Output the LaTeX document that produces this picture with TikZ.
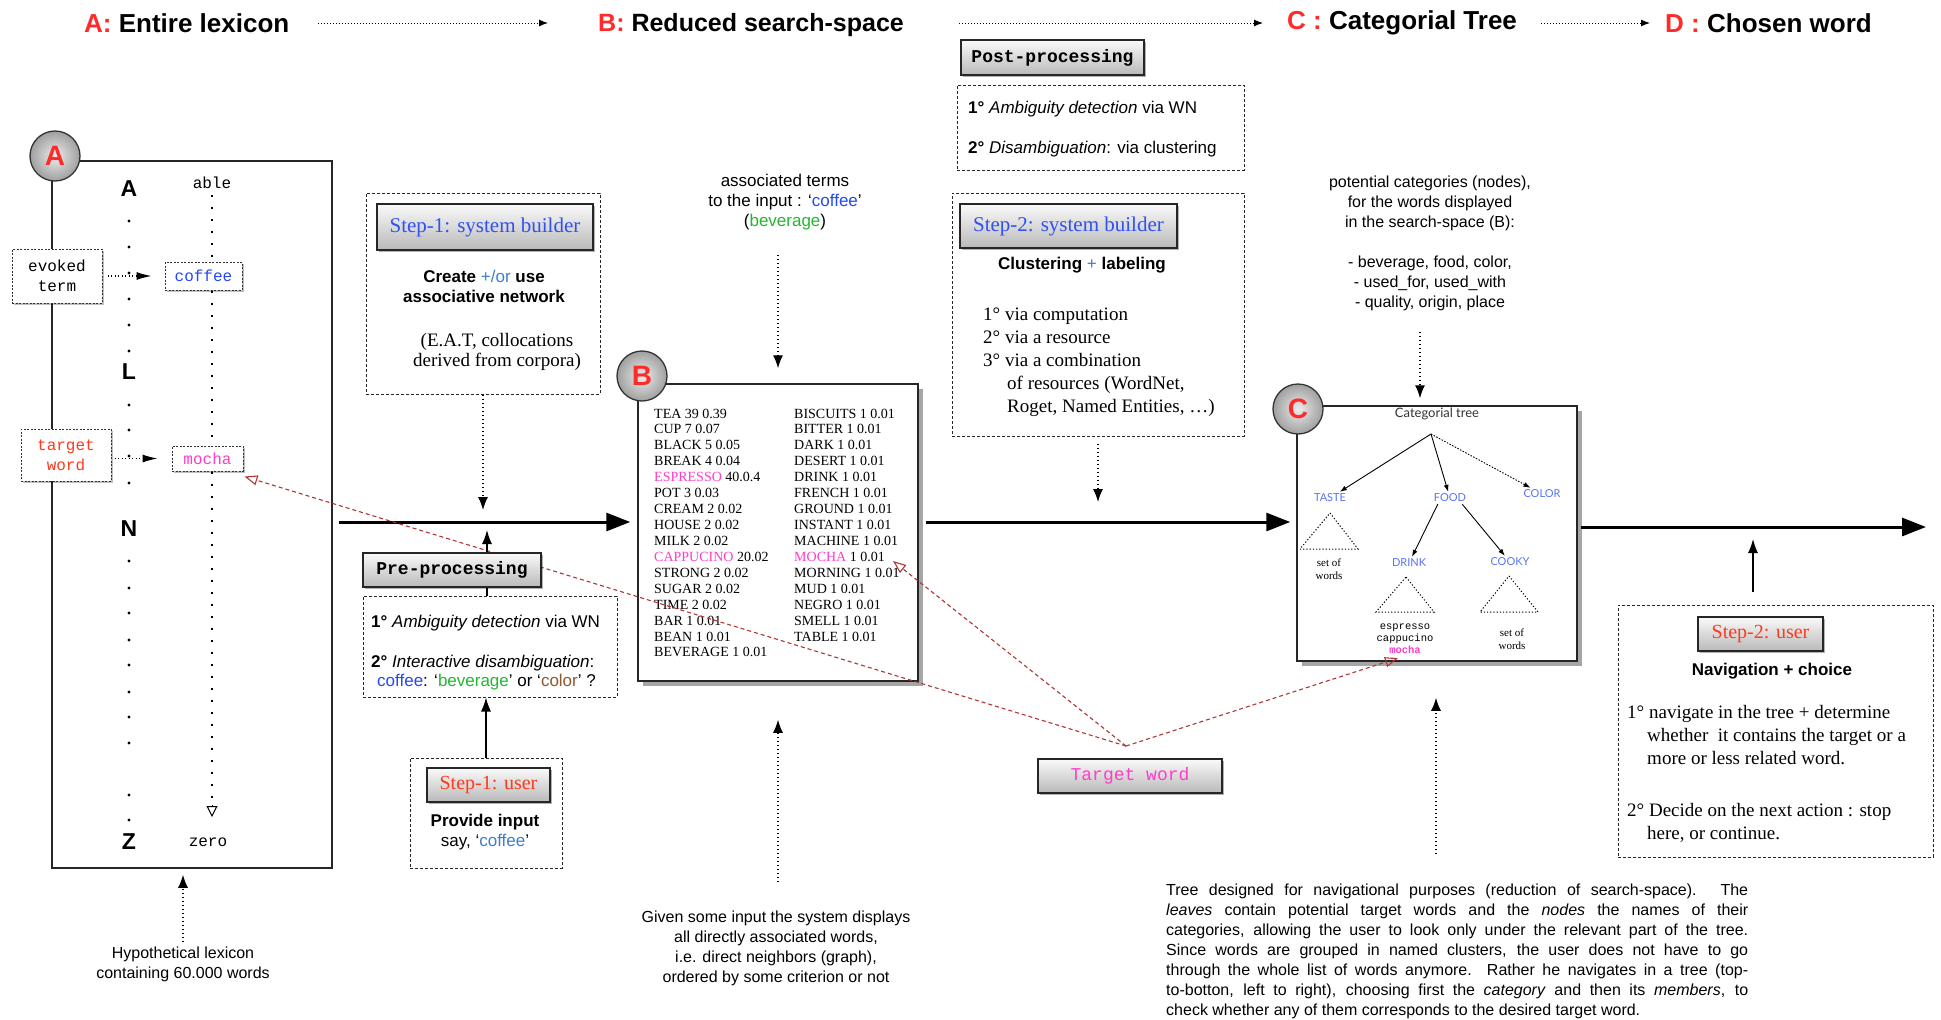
\documentclass[tikz,border=0pt]{standalone}
\usepackage{fontspec}
\setmainfont{Liberation Serif}
\setsansfont{Liberation Sans}
\setmonofont{Liberation Mono}
\newfontfamily\latofont{Lato}
\usetikzlibrary{arrows.meta,shadows,calc}
\definecolor{hred}{HTML}{FF2A2A}
\definecolor{cblue}{HTML}{2448F5}
\definecolor{sblue}{HTML}{3A80D0}
\definecolor{cgreen}{HTML}{22B830}
\definecolor{cbrown}{HTML}{8B5A2B}
\definecolor{cpink}{HTML}{FF3DC8}
\definecolor{tred}{HTML}{B03535}
\definecolor{tblue}{HTML}{5A74F0}
\definecolor{wred}{HTML}{FF3A1A}
\definecolor{hblue}{HTML}{3050F0}
\newcommand\fsz[2]{\fontsize{#1}{#2}\selectfont}
\begin{document}
\begin{tikzpicture}[x=1pt,y=-1pt,
  hdr/.style={font=\sffamily\bfseries\fsz{26}{26}, inner sep=0pt},
  hdrarr/.style={dash pattern=on 1pt off 2pt, line width=1pt, -{Latex[length=9pt,width=7pt]}},
  panel/.style={draw=black!85, line width=1.5pt, fill=white, inner sep=0pt},
  shadowB/.style={drop shadow={shadow xshift=5pt, shadow yshift=-5pt, fill=black, opacity=0.35}},
  dbox/.style={draw=black!85, dash pattern=on 3pt off 2pt, line width=1pt, fill=white, inner sep=0pt},
  gbox/.style={draw=black!85, line width=1.2pt, top color=gray!4, bottom color=gray!55, inner sep=0pt,
     drop shadow={shadow xshift=2pt, shadow yshift=-2pt, fill=black, opacity=0.3}},
  circ/.style={circle, draw=black!80, line width=1.3pt, minimum size=50pt, inner sep=0pt,
     shading=radial, inner color=gray!15, outer color=gray!75,
     font=\sffamily\bfseries\fsz{28}{28}, text=hred},
  mainarr/.style={line width=3pt, -{Triangle[length=24pt,width=18pt]}},
  dotarr/.style={dash pattern=on 1.2pt off 2.8pt, line width=1.3pt, -{Latex[length=13pt,width=10pt]}},
  smalldot/.style={dash pattern=on 1pt off 2.5pt, line width=1.2pt, -{Latex[length=15pt,width=8pt]}},
  solidarr/.style={line width=1.3pt, -{Latex[length=14pt,width=10pt]}},
  treearr/.style={line width=0.9pt, -{Latex[length=7pt,width=5pt]}},
  redarr/.style={draw=tred, dash pattern=on 4pt off 3pt, line width=1.1pt, -{Triangle[open,length=13pt,width=10pt]}},
  wbox/.style={draw=black!80, dash pattern=on 2pt off 1.5pt, line width=1pt, fill=white, inner sep=0pt,
     font=\ttfamily\fsz{16}{20}, drop shadow={shadow xshift=2pt, shadow yshift=-2pt, fill=black, opacity=0.25}},
  mono/.style={font=\ttfamily\fsz{16}{20}, inner sep=0pt},
  letr/.style={font=\sffamily\bfseries\fsz{23}{23}, inner sep=0pt},
  sSeventeen/.style={font=\sffamily\fsz{17}{20}, inner sep=0pt},
  sSixteen/.style={font=\sffamily\fsz{16}{20}, inner sep=0pt},
  sbSeventeen/.style={font=\sffamily\bfseries\fsz{17}{20}, inner sep=0pt},
  rNineteen/.style={font=\rmfamily\fsz{19}{23}, inner sep=0pt},
  btxt/.style={font=\rmfamily\fsz{14}{16}, inner sep=0pt},
  catl/.style={font=\latofont\fsz{11}{11}, text=tblue, inner sep=2pt},
  tri/.style={dash pattern=on 1.2pt off 2pt, line width=1pt}
]
\fill[white] (0,0) rectangle (1941,1020);
\useasboundingbox (0,0) rectangle (1941,1020);

% ---------- header ----------
\node[hdr,anchor=west] (hA) at (84,23) {\textcolor{hred}{A:} Entire lexicon};
\node[hdr,anchor=west,font=\sffamily\bfseries\fsz{25}{25}] (hB) at (598,25) {\textcolor{hred}{B:} Reduced search-space};
\node[hdr,anchor=west] (hC) at (1287,23) {\textcolor{hred}{C :} Categorial Tree};
\node[hdr,anchor=west] (hD) at (1665,23) {\textcolor{hred}{D :} Chosen word};
\draw[hdrarr, shorten <=28pt, shorten >=50pt] (hA.east) -- (hA.east -| hB.west);
\draw[hdrarr, shorten <=55pt, shorten >=24pt] (hC.west -| hB.east) -- (hC.west);
\draw[hdrarr, shorten <=24pt, shorten >=15pt] (hC.east) -- (hD.west);

% ---------- panel A ----------
\node[panel, minimum width=280, minimum height=707] (boxA) at (192,514.5) {};
\node[letr] (lA) at (129,189) {A};
\node[letr] (lL) at (129,372) {L};
\node[letr] (lN) at (129,529) {N};
\node[letr] (lZ) at (129,842) {Z};
\foreach \yy in {221,247,273,299,325,351,405,430,456,483,561,588,613,640,665,692,717,743,795,820}
  \fill (129,\yy) circle (1.7);
\node[mono] (able) at (212,183) {able};
\node[wbox, text=cblue, minimum width=77, minimum height=28] (coffee) at (203.5,276) {coffee};
\node[wbox, text=cpink, minimum width=71, minimum height=25] (mocha) at (207.5,458.5) {mocha};
\node[mono] (zero) at (208,842) {zero};
\coordinate (zend) at (212,817);
\draw[dash pattern=on 2pt off 10pt, line width=1.6pt] (able.south) ++(0,6) -- (able.south |- coffee.north);
\draw[dash pattern=on 2pt off 10pt, line width=1.6pt] (coffee.south -| able.south) -- (mocha.north -| able.south);
\draw[dash pattern=on 2pt off 10pt, line width=1.6pt] (mocha.south -| able.south) -- ($(zend)+(0,-14)$);
\draw[line width=1pt, -{Triangle[open,length=11pt,width=11pt]}] ($(zend)+(0,-12)$) -- (zend);
\node[wbox, minimum width=90, minimum height=54, align=center] (evk) at (57,276) {evoked\\term};
\node[wbox, text=wred, minimum width=90, minimum height=52, align=center] (tgt) at (66,455) {target\\word};
\draw[smalldot, shorten <=5pt, shorten >=13pt] (evk.east) -- (coffee.west);
\draw[smalldot, shorten <=3pt, shorten >=14pt] (tgt.east |- mocha.west) -- (mocha.west);
\node[circ] (cA) at (55,156) {A};
\node[sSixteen, align=center] (hyp) at (183,964) {Hypothetical lexicon\\containing 60.000 words};
\draw[dotarr, shorten <=4pt, shorten >=6pt] (hyp.north) -- (hyp.north |- boxA.south);

% ---------- main arrows ----------
\coordinate (my) at (0,522);
\coordinate (my3) at (1926,527);

% ---------- step 1 system builder ----------
\node[dbox, minimum width=234, minimum height=201] (sb1) at (483,293.5) {};
\node[gbox, minimum width=216, minimum height=46, text=hblue, font=\rmfamily\fsz{21}{21}] (sb1h) at (485,227) {Step-1: system builder};
\node[sbSeventeen, align=center] (sb1t) at (484,286) {Create {\mdseries\textcolor{sblue}{+/or}} use\\associative network};
\node[font=\rmfamily\fsz{19}{20}, inner sep=0pt, align=center] (sb1s) at (497,352) {(E.A.T, collocations\\derived from corpora)};
\draw[dotarr, shorten >=12pt] (sb1.south) -- (sb1.south |- my);

% ---------- B ----------
\node[panel, shadowB, minimum width=280, minimum height=297] (boxB) at (778,532.5) {};
\foreach \t [count=\i from 0] in {TEA 39 0.39, CUP 7 0.07, BLACK 5 0.05, BREAK 4 0.04, {\textcolor{cpink}{ESPRESSO} 40.0.4}, POT 3 0.03, CREAM 2 0.02, HOUSE 2 0.02, MILK 2 0.02, {\textcolor{cpink}{CAPPUCINO} 20.02}, STRONG 2 0.02, SUGAR 2 0.02, TIME 2 0.02, BAR 1 0.01, BEAN 1 0.01, BEVERAGE 1 0.01}
  \node[btxt, anchor=base west] (bl\i) at (654,{418+15.93*\i}) {\t};
\foreach \t [count=\i from 0] in {BISCUITS 1 0.01, BITTER 1 0.01, DARK 1 0.01, DESERT 1 0.01, DRINK 1 0.01, FRENCH 1 0.01, GROUND 1 0.01, INSTANT 1 0.01, MACHINE 1 0.01, {\textcolor{cpink}{MOCHA} 1 0.01}, MORNING 1 0.01, MUD 1 0.01, NEGRO 1 0.01, SMELL 1 0.01, TABLE 1 0.01}
  \node[btxt, anchor=base west] (br\i) at (794,{418+15.93*\i}) {\t};
\node[circ] (cB) at (642,376) {B};
\node[sSeventeen, align=center] (assoc) at (785,202) {associated terms\\to the input : ‘\textcolor{cblue}{coffee}’\\(\textcolor{cgreen}{beverage})};
\draw[dotarr, shorten <=25pt, shorten >=15pt] (assoc.south -| boxB.north) -- (boxB.north);
\node[sSixteen, align=center] (given) at (776,948) {Given some input the system displays\\all directly associated words,\\i.e. direct neighbors (graph),\\ordered by some criterion or not};
\draw[dotarr, shorten <=28pt, shorten >=38pt] (given.north -| boxB.south) -- (boxB.south);

\draw[mainarr, shorten <=6pt, shorten >=7pt] (boxA.east |- my) -- (boxB.west |- my);

% ---------- post-processing / step 2 builder ----------
\node[gbox, minimum width=183, minimum height=35, font=\ttfamily\bfseries\fsz{18}{18}] (post) at (1052.5,57.5) {Post-processing};
\node[dbox, minimum width=287, minimum height=85] (postb) at (1100.5,127.5) {};
\node[sSeventeen, anchor=base west] (post1) at (968,113) {\textbf{1°} \textit{Ambiguity detection} via WN};
\node[sSeventeen, anchor=base west] (post2) at (968,153) {\textbf{2°} \textit{Disambiguation}: via clustering};
\node[dbox, minimum width=292, minimum height=243] (sb2) at (1098,314.5) {};
\node[gbox, minimum width=217, minimum height=44, text=hblue, font=\rmfamily\fsz{21}{21}] (sb2h) at (1068.5,226) {Step-2: system builder};
\node[sbSeventeen] (sb2t) at (1082,265) {Clustering {\mdseries\textcolor{sblue}{+}} labeling};
\node[rNineteen, anchor=base west] (sb2a) at (983,320) {1° via computation};
\node[rNineteen, anchor=base west] (sb2b) at (983,343) {2° via a resource};
\node[rNineteen, anchor=base west] (sb2c) at (983,366) {3° via a combination};
\node[rNineteen, anchor=base west] (sb2d) at (1007,389) {of resources (WordNet,};
\node[rNineteen, anchor=base west] (sb2e) at (1007,412) {Roget, Named Entities, …)};
\draw[dotarr, shorten <=7pt, shorten >=20pt] (sb2.south) -- (sb2.south |- my);

% ---------- C ----------
\node[sSixteen, align=center] (potcat) at (1430,243) {potential categories (nodes),\\for the words displayed\\in the search-space (B):\\[20pt]- beverage, food, color,\\- used\_for, used\_with\\- quality, origin, place};
\node[panel, shadowB, minimum width=280, minimum height=255] (boxC) at (1437,533.5) {};
\coordinate (pcA) at (1420,332);
\draw[dotarr, shorten >=7pt] (pcA) -- (pcA |- boxC.north);
\node[font=\latofont\fsz{13}{13}, text=black!80, inner sep=0pt] (ctitle) at (1437,414) {Categorial tree};
\coordinate (root) at (1431,434);
\node[catl] (taste) at (1330,498) {TASTE};
\node[catl] (food) at (1450,498) {FOOD};
\node[catl] (color) at (1542,494) {COLOR};
\node[catl] (drink) at (1409,563) {DRINK};
\node[catl] (cooky) at (1510,562) {COOKY};
\draw[treearr] (root) -- (taste);
\draw[treearr] (root) -- (food);
\draw[treearr, dash pattern=on 1.5pt off 1.5pt] (root) -- (color);
\draw[treearr] (food.south west) ++(6,0) -- (drink);
\draw[treearr] (food.south east) ++(-6,0) -- (cooky);
\draw[tri] (1330,513) -- (1358,549) -- (1300,549) -- cycle;
\draw[tri] (1406,577) -- (1434,612) -- (1376,612) -- cycle;
\draw[tri] (1509,576) -- (1538,612) -- (1480,612) -- cycle;
\node[font=\rmfamily\fsz{11}{13}, align=center, inner sep=0pt] (tsw) at (1329,569.5) {set of\\words};
\node[font=\ttfamily\fsz{10.5}{12}, align=center, inner sep=0pt] (dw) at (1405,639) {espresso\\cappucino\\\textcolor{cpink}{\bfseries mocha}};
\node[font=\rmfamily\fsz{11}{13}, align=center, inner sep=0pt] (csw) at (1512,639.5) {set of\\words};
\node[circ] (cC) at (1298,409) {C};
\draw[mainarr, shorten <=7pt, shorten >=6pt] (boxB.east |- my) -- (boxC.west |- my);
\draw[mainarr, shorten <=3pt] (boxC.east |- my3) -- (my3);

\node[sSixteen, align=left, anchor=north west] (para) at (1166,884) {%
\makebox[582pt][s]{Tree designed for navigational purposes (reduction of search-space). The}\\
\makebox[582pt][s]{\textit{leaves} contain potential target words and the \textit{nodes} the names of their}\\
\makebox[582pt][s]{categories, allowing the user to look only under the relevant part of the tree.}\\
\makebox[582pt][s]{Since words are grouped in named clusters, the user does not have to go}\\
\makebox[582pt][s]{through the whole list of words anymore. Rather he navigates in a tree (top-}\\
\makebox[582pt][s]{to-botton, left to right), choosing first the \textit{category} and then its \textit{members}, to}\\
check whether any of them corresponds to the desired target word.};
\coordinate (bpA) at (1436,854);
\draw[dotarr, shorten >=36pt] (bpA) -- (bpA |- boxC.south);

% ---------- step 2 user ----------
\node[dbox, minimum width=315, minimum height=252] (su2) at (1775.5,731) {};
\node[gbox, minimum width=125, minimum height=34, text=wred, font=\rmfamily\fsz{20}{20}] (su2h) at (1760.5,634) {Step-2: user};
\node[sbSeventeen] (su2t) at (1772,671) {Navigation + choice};
\node[rNineteen, anchor=base west] (su2a) at (1627,718) {1° navigate in the tree + determine};
\node[rNineteen, anchor=base west] (su2b) at (1647,741) {whether\ \ it contains the target or a};
\node[rNineteen, anchor=base west] (su2c) at (1647,764) {more or less related word.};
\node[rNineteen, anchor=base west] (su2d) at (1627,816) {2° Decide on the next action : stop};
\node[rNineteen, anchor=base west] (su2e) at (1647,839) {here, or continue.};
\coordinate (s2a) at (1753,592);
\draw[solidarr, shorten >=12pt] (s2a) -- (s2a |- my3);

% ---------- target word + red links ----------
\node[gbox, minimum width=184, minimum height=34, text=cpink, font=\ttfamily\fsz{18}{18}] (tw) at (1130,776) {Target word};
\coordinate (tc) at (1126,746);
\coordinate (mtip) at (893,561);
\draw[redarr] (tc) -- ($(mocha.south east)+(1,5)$);
\draw[redarr] (tc) -- (mtip);
\draw[redarr] (tc) -- ($(dw.south)+(-7,4)$);

% ---------- pre-processing / step 1 user ----------
\node[dbox, minimum width=254, minimum height=101] (preb) at (490,646.5) {};
\draw[solidarr, shorten >=8pt] (preb.north -| 487,0) -- (487,522);
\node[gbox, minimum width=178, minimum height=34, font=\ttfamily\bfseries\fsz{18}{18}] (pre) at (452,570) {Pre-processing};
\node[sSeventeen, anchor=base west] (pre1) at (371,627) {\textbf{1°} \textit{Ambiguity detection} via WN};
\node[sSeventeen, anchor=base west] (pre2) at (371,667) {\textbf{2°} \textit{Interactive disambiguation}:};
\node[sSeventeen, anchor=base west] (pre3) at (377,686) {\textcolor{cblue}{coffee}: ‘\textcolor{cgreen}{beverage}’ or ‘\textcolor{cbrown}{color}’ ?};
\node[dbox, minimum width=152, minimum height=110] (su1) at (486,813) {};
\node[gbox, minimum width=123, minimum height=34, text=wred, font=\rmfamily\fsz{20}{20}] (su1h) at (488.5,785) {Step-1: user};
\node[sbSeventeen] (su1a) at (485,822) {Provide input};
\node[sSeventeen] (su1b) at (485,842) {say, ‘\textcolor{sblue}{coffee}’};
\draw[solidarr] (su1.north) -- (preb.south -| su1.north);
\end{tikzpicture}
\end{document}
